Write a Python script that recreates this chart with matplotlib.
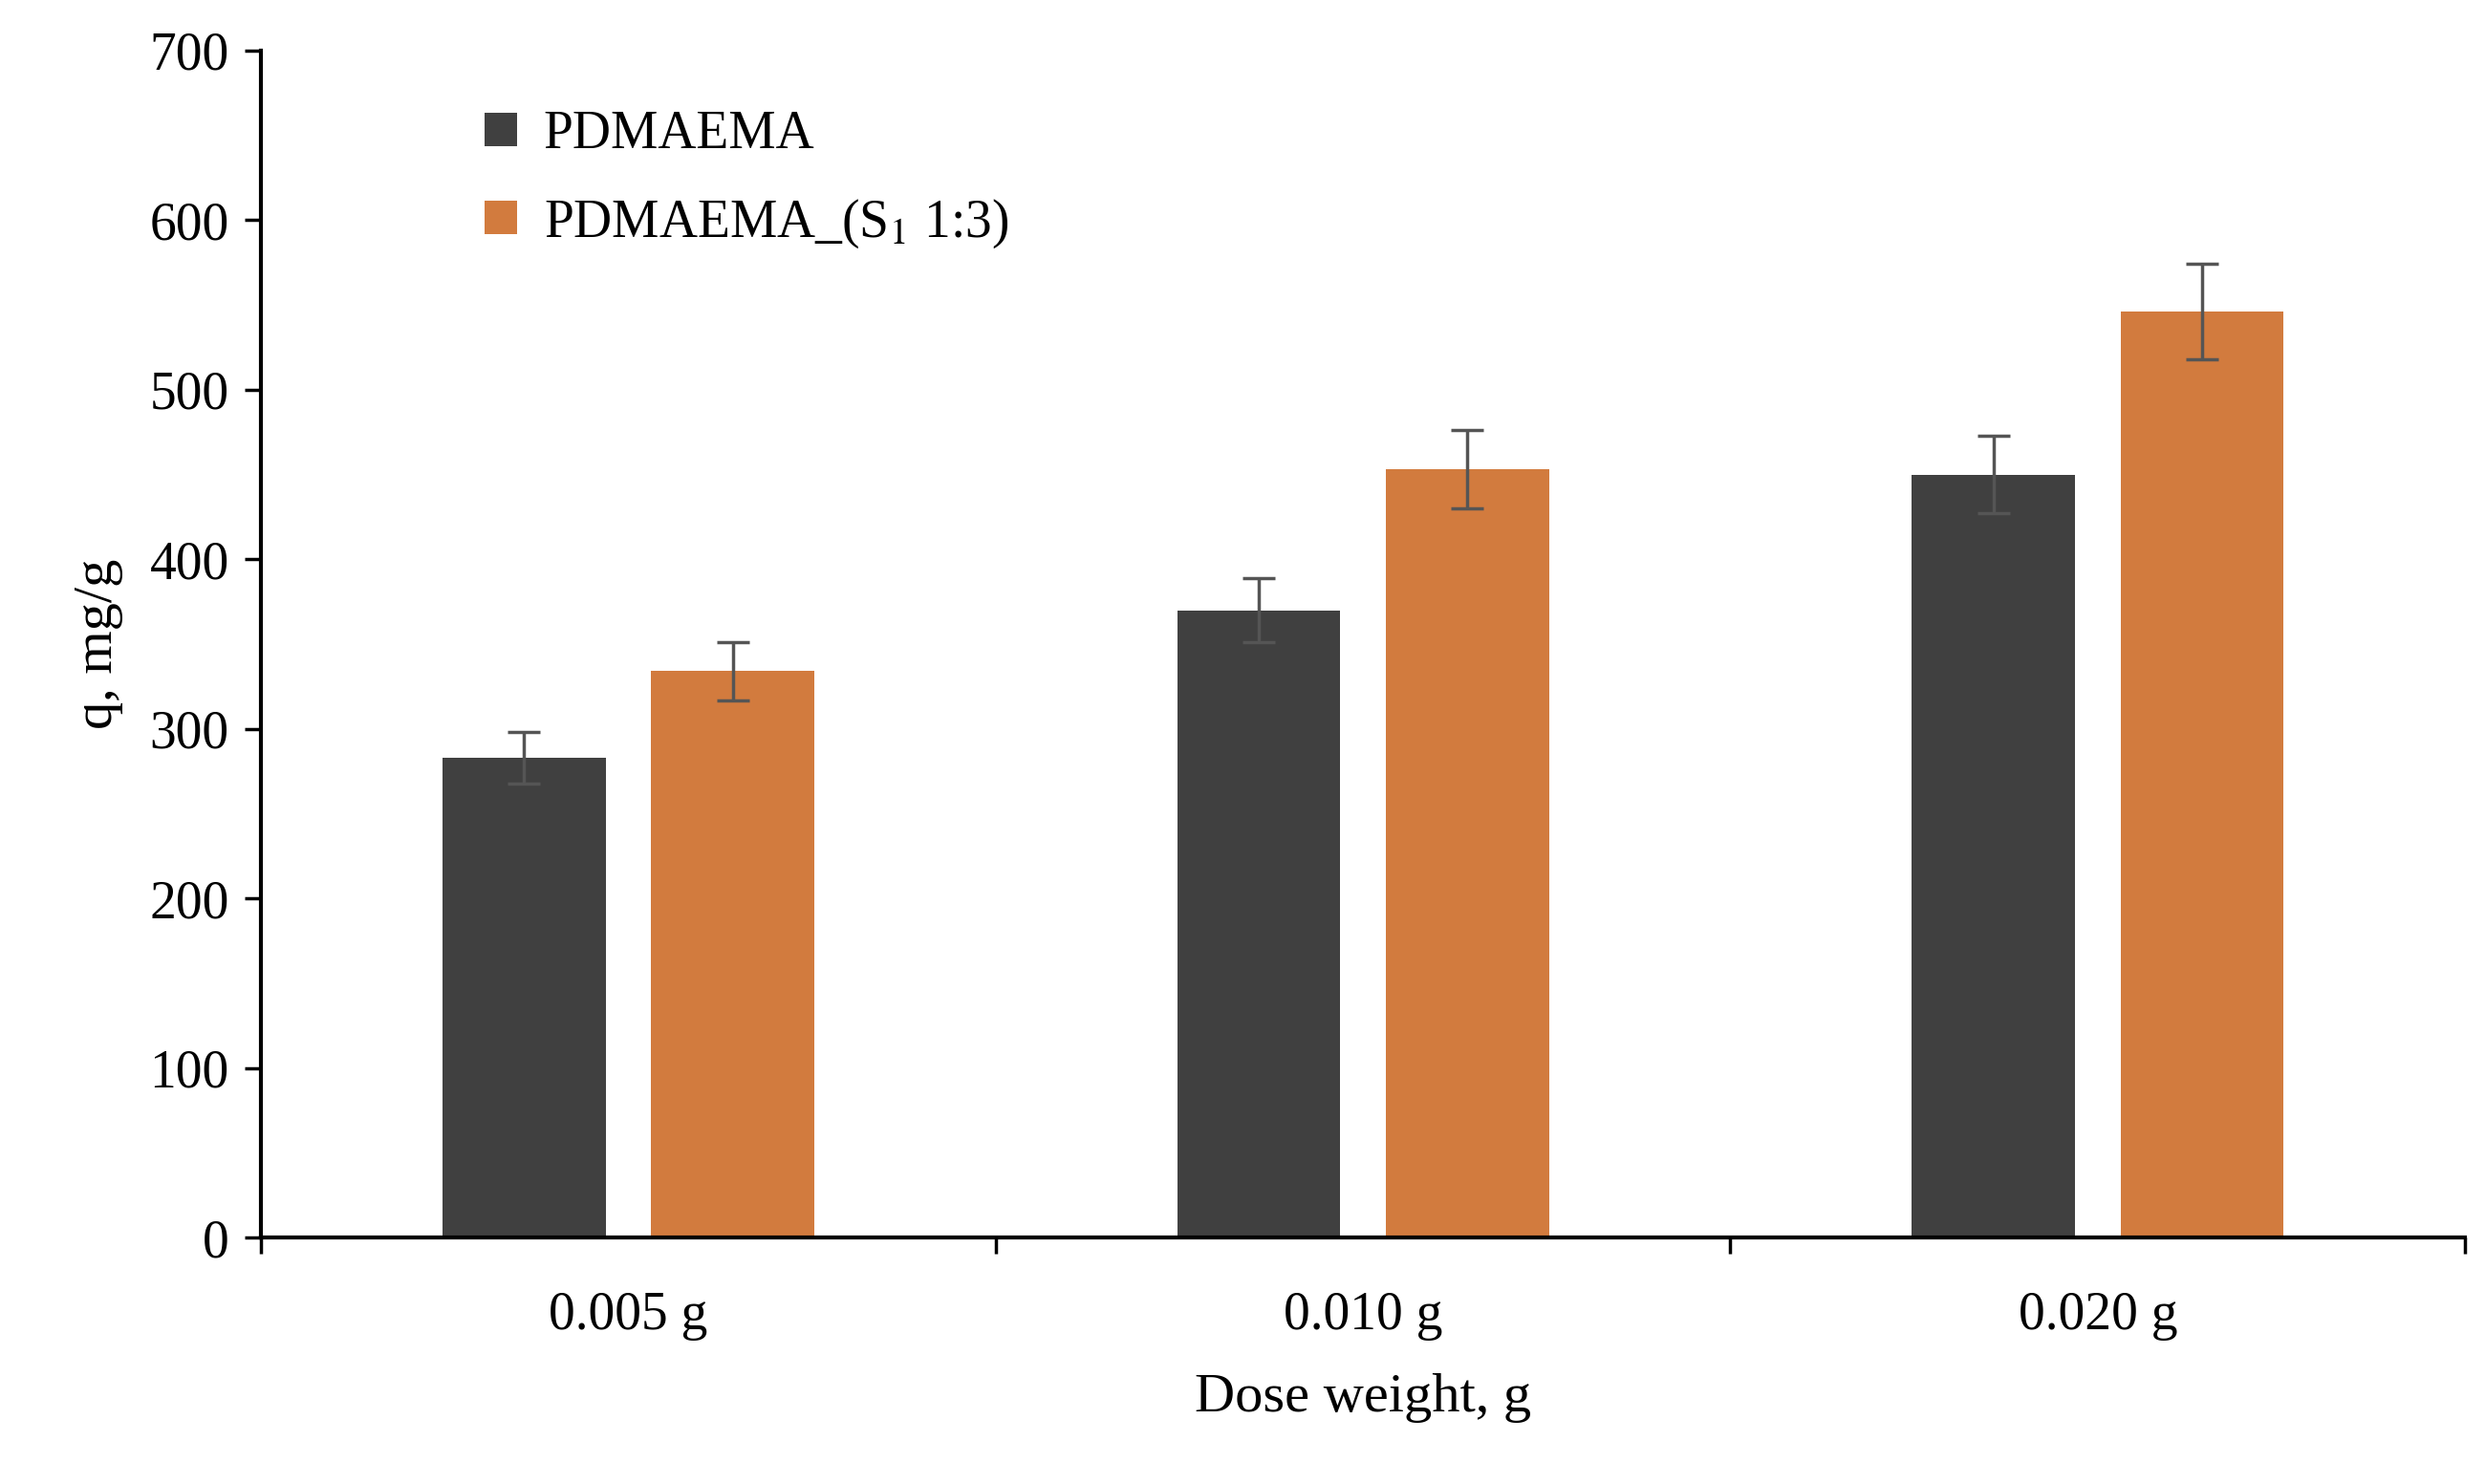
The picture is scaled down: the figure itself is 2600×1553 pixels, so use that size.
import matplotlib.pyplot as plt
import numpy as np

plt.rcParams['font.family'] = 'Liberation Serif'
plt.rcParams['mathtext.fontset'] = 'stix'

# data
doses = ['0.005 g', '0.010 g', '0.020 g']
pdmaema = [283, 370, 450]
pdmaema_err = [15, 19, 23]
pdmaema_s1 = [334, 453, 546]
pdmaema_s1_err = [17, 23, 28]

fig = plt.figure(figsize=(26, 15.53), dpi=100)
ax = fig.add_axes([0.105, 0.166, 0.887, 0.8])

x = np.arange(len(doses)) + 0.5
w = 0.222
ekw = dict(ecolor='#555555', elinewidth=2.5, capsize=12, capthick=2.5)
ax.bar(x - 0.142, pdmaema, w, yerr=pdmaema_err, color='#404040',
       label='PDMAEMA', error_kw=ekw)
ax.bar(x + 0.142, pdmaema_s1, w, yerr=pdmaema_s1_err, color='#D27B3E',
       label='PDMAEMA_(S$_{1}$ 1:3)', error_kw=ekw)

ax.set_xlim(0, 3)
ax.set_ylim(0, 700)
ax.set_yticks(range(0, 701, 100))
ax.set_xticks([0, 1, 2, 3])
ax.set_xticklabels([])
ax.set_xticks(x, minor=True)
ax.set_xticklabels(doses, minor=True)
ax.tick_params(axis='x', which='minor', length=0, pad=40, labelsize=40)
ax.tick_params(axis='x', which='major', length=12, width=2.5, direction='out')
ax.tick_params(axis='y', length=12, width=2.5, labelsize=40, pad=12)
for s in ['top', 'right']:
    ax.spines[s].set_visible(False)
for s in ['left', 'bottom']:
    ax.spines[s].set_linewidth(3)

ax.set_xlabel('Dose weight, g', fontsize=42, labelpad=25)
ax.set_ylabel('q, mg/g', fontsize=42, labelpad=20)

ax.legend(loc='upper left', bbox_to_anchor=(0.08, 0.99), frameon=False,
          fontsize=40, handlelength=0.6, handleheight=0.6, handletextpad=0.5,
          labelspacing=0.7)

fig.savefig('out.png')
